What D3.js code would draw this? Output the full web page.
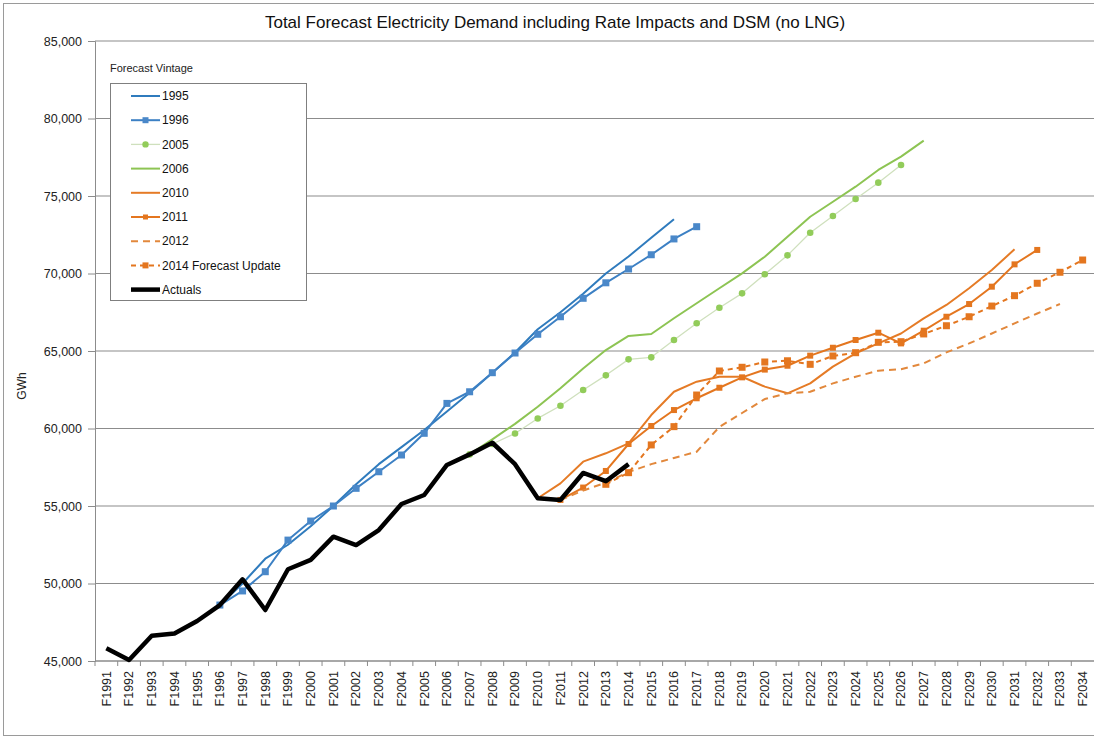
<!DOCTYPE html>
<html>
<head>
<meta charset="utf-8">
<script src="https://cdnjs.cloudflare.com/ajax/libs/d3/7.8.5/d3.min.js"></script>
<style>
  body { margin: 0; background: #fff; }
  svg { font-family: "Liberation Sans", Arial, sans-serif; }
</style>
</head>
<body>
<div id="chart"></div>
<script>
// category labels
var categories = ["F1991","F1992","F1993","F1994","F1995","F1996","F1997","F1998","F1999","F2000",
  "F2001","F2002","F2003","F2004","F2005","F2006","F2007","F2008","F2009","F2010",
  "F2011","F2012","F2013","F2014","F2015","F2016","F2017","F2018","F2019","F2020",
  "F2021","F2022","F2023","F2024","F2025","F2026","F2027","F2028","F2029","F2030",
  "F2031","F2032","F2033","F2034"];

var yTicks = [45000, 50000, 55000, 60000, 65000, 70000, 75000, 80000, 85000];

// series values (GWh), each starting at the given category
var actuals = [45820, 45060, 46630, 46780, 47580, 48610, 50270, 48290, 50920, 51520, 53020, 52480,
  53450, 55130, 55710, 57650, 58330, 59080, 57700, 55500, 55390, 57130, 56600, 57700];
var actualsStart = "F1991";

var v1995 = [48610, 50000, 51600, 52500, 53700, 55000, 56400, 57700, 58800, 59900, 61100, 62300,
  63600, 64900, 66400, 67500, 68700, 70000, 71100, 72300, 73500];
var v1995Start = "F1996";

var v1996 = [48610, 49520, 50760, 52800, 54030, 55000, 56140, 57210, 58290, 59690, 61620, 62370,
  63600, 64870, 66080, 67210, 68400, 69400, 70290, 71210, 72230, 73020];
var v1996Start = "F1996";

var v2005 = [58330, 59000, 59680, 60650, 61470, 62480, 63430, 64460, 64590, 65710, 66790, 67790,
  68720, 69950, 71170, 72630, 73710, 74810, 75860, 77000];
var v2005Start = "F2007";

var v2006 = [58330, 59300, 60300, 61400, 62600, 63870, 65060, 65970, 66100, 67110, 68080, 69050,
  70010, 71080, 72370, 73660, 74630, 75600, 76680, 77540, 78570];
var v2006Start = "F2007";

var v2010 = [55500, 56460, 57860, 58400, 59040, 60870, 62370, 63020, 63340, 63340, 62700, 62270,
  62910, 63990, 64850, 65490, 66130, 67100, 67970, 69050, 70230, 71560];
var v2010Start = "F2010";

var v2011 = [55390, 56190, 57260, 59000, 60160, 61190, 61950, 62630, 63300, 63800, 64050, 64700,
  65210, 65710, 66180, 65490, 66310, 67210, 68030, 69150, 70590, 71520];
var v2011Start = "F2011";

var v2012 = [55390, 56000, 56500, 57200, 57700, 58100, 58500, 60100, 61000, 61900, 62270, 62370,
  62910, 63340, 63730, 63820, 64200, 64910, 65490, 66130, 66780, 67420, 68030];
var v2012Start = "F2011";

var v2014 = [56400, 57150, 58940, 60120, 62160, 63710, 63950, 64290, 64370, 64140, 64680, 64890,
  65560, 65600, 66100, 66630, 67210, 67900, 68570, 69370, 70080, 70870];
var v2014Start = "F2013";

var svgWidth = 1094, svgHeight = 739;
var plot = { left: 95, right: 1094, top: 41, bottom: 661 };

var svg = d3.select("#chart").append("svg")
  .attr("width", svgWidth)
  .attr("height", svgHeight);

// outer frame
svg.append("rect")
  .attr("x", 3.5).attr("y", 3.5)
  .attr("width", 1100).attr("height", 732)
  .attr("fill", "none").attr("stroke", "#9a9a9a");

var xScale = d3.scalePoint()
  .domain(categories)
  .range([plot.left, plot.right])
  .padding(0.5);

var yScale = d3.scaleLinear()
  .domain([45000, 85000])
  .range([plot.bottom, plot.top]);

// gridlines
svg.append("g")
  .selectAll("line")
  .data(yTicks)
  .enter()
  .append("line")
  .attr("x1", plot.left).attr("x2", plot.right)
  .attr("y1", d => yScale(d)).attr("y2", d => yScale(d))
  .attr("stroke", "#8c8c8c").attr("stroke-width", 1.2);

// y axis
var leftAxis = d3.axisLeft(yScale)
  .tickValues(yTicks)
  .tickSize(7)
  .tickPadding(6)
  .tickFormat(d3.format(","));

var yAxisG = svg.append("g")
  .attr("transform", `translate(${plot.left}, 0)`)
  .call(leftAxis);
yAxisG.select(".domain").attr("stroke", "#8c8c8c");
yAxisG.selectAll(".tick line").attr("stroke", "#8c8c8c");
yAxisG.selectAll(".tick text")
  .attr("font-size", "12.5px").attr("fill", "#222")
  .attr("font-family", "Liberation Sans, Arial, sans-serif");

// x axis: Excel style ticks between categories
var step = xScale.step();
var xAxisG = svg.append("g");
xAxisG.append("line")
  .attr("x1", plot.left).attr("x2", plot.right)
  .attr("y1", plot.bottom).attr("y2", plot.bottom)
  .attr("stroke", "#8c8c8c").attr("stroke-width", 1.2);
xAxisG.selectAll(".xtick")
  .data(categories)
  .enter()
  .append("line")
  .attr("class", "xtick")
  .attr("x1", d => xScale(d) - step / 2).attr("x2", d => xScale(d) - step / 2)
  .attr("y1", plot.bottom).attr("y2", plot.bottom + 5)
  .attr("stroke", "#8c8c8c");
xAxisG.selectAll(".xlabel")
  .data(categories)
  .enter()
  .append("text")
  .attr("class", "xlabel")
  .attr("transform", d => `translate(${xScale(d)}, ${plot.bottom + 10}) rotate(-90)`)
  .attr("dy", "0.35em")
  .attr("text-anchor", "end")
  .attr("font-size", "12.5px")
  .attr("fill", "#222")
  .text(d => d);

// title
svg.append("text")
  .attr("x", 555).attr("y", 28)
  .attr("text-anchor", "middle")
  .attr("font-size", "17px")
  .attr("fill", "#111")
  .text("Total Forecast Electricity Demand including Rate Impacts and DSM (no LNG)");

// y axis label
svg.append("text")
  .attr("transform", "translate(26, 386) rotate(-90)")
  .attr("text-anchor", "middle")
  .attr("font-size", "12px")
  .attr("fill", "#222")
  .text("GWh");

function toPoints(values, start) {
  var i0 = categories.indexOf(start);
  return values.map((v, i) => ({ cat: categories[i0 + i], value: v }));
}

var line = d3.line()
  .x(d => xScale(d.cat))
  .y(d => yScale(d.value));

var series = [
  { name: "1995", data: toPoints(v1995, v1995Start), color: "#2f7bbd", width: 2, dash: null, marker: null },
  { name: "1996", data: toPoints(v1996, v1996Start), color: "#3c80c4", width: 2, dash: null, marker: "square", mcolor: "#4a88c9" },
  { name: "2005", data: toPoints(v2005, v2005Start), color: "#cfe0bd", width: 1.3, dash: null, marker: "circle", mcolor: "#92cc5a" },
  { name: "2006", data: toPoints(v2006, v2006Start), color: "#8dc453", width: 2, dash: null, marker: null },
  { name: "2010", data: toPoints(v2010, v2010Start), color: "#e57b26", width: 2, dash: null, marker: null },
  { name: "2011", data: toPoints(v2011, v2011Start), color: "#e4761f", width: 2, dash: null, marker: "small", mcolor: "#e4761f" },
  { name: "2012", data: toPoints(v2012, v2012Start), color: "#e2883c", width: 2, dash: "7,5", marker: null },
  { name: "2014 Forecast Update", data: toPoints(v2014, v2014Start), color: "#e4761f", width: 2, dash: "5,4", marker: "square", mcolor: "#e4761f" },
  { name: "Actuals", data: toPoints(actuals, actualsStart), color: "#000", width: 4.5, dash: null, marker: null }
];

function drawMarkers(g, pts, s) {
  if (s.marker === "square") {
    g.selectAll("rect.m").data(pts).enter().append("rect")
      .attr("class", "m")
      .attr("x", d => xScale(d.cat) - 3.5).attr("y", d => yScale(d.value) - 3.5)
      .attr("width", 7).attr("height", 7)
      .attr("fill", s.mcolor);
  } else if (s.marker === "circle") {
    g.selectAll("circle.m").data(pts).enter().append("circle")
      .attr("class", "m")
      .attr("cx", d => xScale(d.cat)).attr("cy", d => yScale(d.value))
      .attr("r", 3.3).attr("fill", s.mcolor);
  } else if (s.marker === "small") {
    g.selectAll("rect.m").data(pts).enter().append("rect")
      .attr("class", "m")
      .attr("x", d => xScale(d.cat) - 3).attr("y", d => yScale(d.value) - 3)
      .attr("width", 6).attr("height", 6)
      .attr("fill", s.mcolor);
  }
}

var linesG = svg.append("g");
series.forEach(function(s) {
  var g = linesG.append("g");
  g.append("path")
    .datum(s.data)
    .attr("d", line)
    .attr("fill", "none")
    .attr("stroke", s.color)
    .attr("stroke-width", s.width)
    .attr("stroke-linejoin", "round")
    .attr("stroke-dasharray", s.dash);
  drawMarkers(g, s.data, s);
});

// legend
svg.append("text")
  .attr("x", 110).attr("y", 72)
  .attr("font-size", "11px").attr("fill", "#222")
  .text("Forecast Vintage");

svg.append("rect")
  .attr("x", 110.5).attr("y", 83.5)
  .attr("width", 196).attr("height", 217)
  .attr("fill", "#fff").attr("stroke", "#7f7f7f");

var legend = svg.append("g");
series.forEach(function(s, i) {
  var y = 96 + i * 24.2;
  var g = legend.append("g");
  g.append("line")
    .attr("x1", 131).attr("x2", 160)
    .attr("y1", y).attr("y2", y)
    .attr("stroke", s.color)
    .attr("stroke-width", s.width)
    .attr("stroke-dasharray", s.dash);
  if (s.marker) {
    var pt = { cat: null, value: null };
    if (s.marker === "circle") {
      g.append("circle").attr("cx", 145.5).attr("cy", y).attr("r", 3.2).attr("fill", s.mcolor);
    } else {
      var sz = s.marker === "small" ? 5 : 6;
      g.append("rect").attr("x", 145.5 - sz / 2).attr("y", y - sz / 2)
        .attr("width", sz).attr("height", sz).attr("fill", s.mcolor);
    }
  }
  g.append("text")
    .attr("x", 162).attr("y", y)
    .attr("dy", "0.35em")
    .attr("font-size", "12px").attr("fill", "#111")
    .text(s.name);
});
</script>
</body>
</html>
